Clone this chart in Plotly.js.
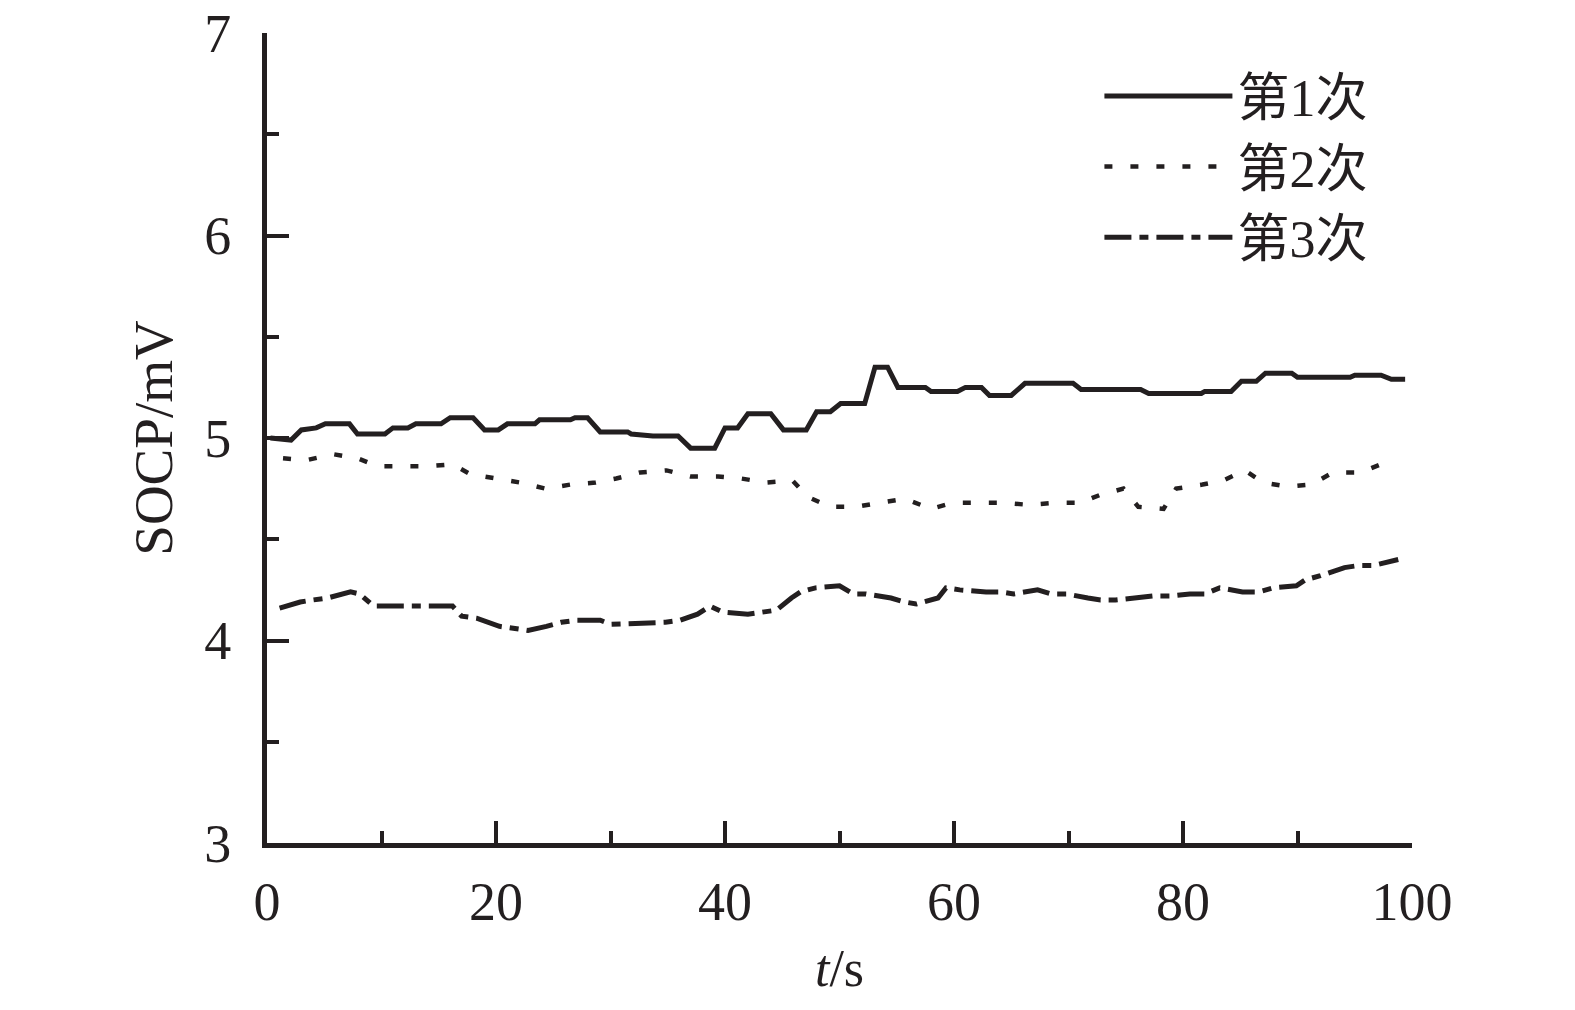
<!DOCTYPE html>
<html>
<head>
<meta charset="utf-8">
<script src="https://cdn.plot.ly/plotly-3.0.1.min.js"></script>
<style>
  html, body { margin: 0; padding: 0; background: #ffffff; }
  #chart { width: 1575px; height: 1010px; }
</style>
</head>
<body>
<div id="chart"></div>
<script>
// Series names
const seriesNames = ['第1次', '第2次', '第3次'];

// Series 1 (solid)
const t1 = [0.3,2.1,3,4.3,5.1,7.2,7.9,10.3,11,12.3,13,15.2,16,18,19,20.2,21,23.4,23.8,26.5,26.9,28,29.1,31.5,31.8,33.7,35.9,37,39.1,40,41.1,42,44,45.1,47.1,48,49.2,50.1,52.2,53.1,54.2,55.1,57.5,58,60.3,61,62.4,63.1,65,66.2,70.4,71.1,76.3,77,81.6,81.9,84.2,85.1,86.4,87.2,89.5,90,91.6,94.6,95,97.3,98.2,99.4];
const v1 = [5.0,4.99,5.04,5.05,5.07,5.07,5.02,5.02,5.05,5.05,5.07,5.07,5.10,5.10,5.04,5.04,5.07,5.07,5.09,5.09,5.10,5.10,5.03,5.03,5.02,5.01,5.01,4.95,4.95,5.05,5.05,5.12,5.12,5.04,5.04,5.13,5.13,5.17,5.17,5.35,5.35,5.25,5.25,5.23,5.23,5.25,5.25,5.21,5.21,5.27,5.27,5.24,5.24,5.22,5.22,5.23,5.23,5.28,5.28,5.32,5.32,5.30,5.30,5.30,5.31,5.31,5.29,5.29];

// Series 2 (dotted)
const t2 = [1.4,3.4,5.8,7.9,9.7,11.9,13.9,16.2,17.8,20,22.1,24.3,26.5,28.7,30.5,32.6,34.9,37,39.4,41.4,43.6,45.9,47.2,49.2,51.4,53.5,55.7,58,59.9,62.1,64.3,66.5,68.8,71,72.8,74.8,76.1,78.3,79.4,81.7,83.5,85.4,87,89.2,91.2,93.1,95.5,97.3];
const v2 = [4.90,4.89,4.92,4.90,4.86,4.86,4.86,4.87,4.82,4.80,4.78,4.75,4.77,4.78,4.80,4.83,4.84,4.81,4.81,4.80,4.78,4.79,4.71,4.66,4.66,4.68,4.70,4.65,4.68,4.68,4.68,4.67,4.68,4.68,4.72,4.75,4.66,4.65,4.75,4.77,4.79,4.84,4.78,4.76,4.77,4.83,4.83,4.87];

// Series 3 (dash-dot)
const t3 = [1.1,2.9,4,5.3,7.3,8.1,9.3,11.6,16.2,17,18.3,20.3,21.7,22.8,24.4,25.7,27,29.1,30,33.7,34.8,36.1,37.6,38.7,39.8,42,43,44.5,45.8,46.6,47.9,50,51.2,52.3,54.5,55.7,56.7,58.6,59.3,60.5,62.8,64,65.2,67.3,68.5,69.8,71.7,72.8,74.1,76.2,77.4,78.9,80.6,81.9,83.2,85.2,86.6,87.9,89.9,90.7,92,94.1,95.3,96.6,98.8];
const v3 = [4.16,4.19,4.20,4.21,4.24,4.23,4.17,4.17,4.17,4.12,4.11,4.07,4.06,4.05,4.07,4.09,4.10,4.10,4.08,4.09,4.09,4.10,4.13,4.17,4.14,4.13,4.14,4.15,4.21,4.24,4.26,4.27,4.23,4.23,4.21,4.19,4.18,4.21,4.26,4.25,4.24,4.24,4.23,4.25,4.23,4.23,4.21,4.20,4.20,4.21,4.22,4.22,4.23,4.23,4.26,4.24,4.24,4.26,4.27,4.30,4.32,4.36,4.37,4.37,4.40];

const ink = '#231f20';
const serif = '"Liberation Serif", "Times New Roman", "Noto Sans CJK SC", serif';

const traces = [
  { x: t1, y: v1, name: seriesNames[0], type: 'scatter', mode: 'lines',
    line: { color: ink, width: 5, dash: 'solid' } },
  { x: t2, y: v2, name: seriesNames[1], type: 'scatter', mode: 'lines',
    line: { color: ink, width: 4.5, dash: '8px,18px' } },
  { x: t3, y: v3, name: seriesNames[2], type: 'scatter', mode: 'lines',
    line: { color: ink, width: 5, dash: '27px,8px,9px,8px' } }
];

const layout = {
  width: 1575, height: 1010,
  paper_bgcolor: '#ffffff', plot_bgcolor: '#ffffff',
  margin: { l: 267, r: 163, t: 33, b: 167 },
  font: { family: serif, color: ink, size: 54 },
  showlegend: true,
  legend: {
    x: 0.727, y: 0.972, xanchor: 'left', yanchor: 'top',
    bgcolor: 'rgba(0,0,0,0)', borderwidth: 0,
    font: { family: serif, size: 52, color: ink },
    itemwidth: 128, tracegroupgap: 0
  },
  xaxis: {
    range: [0, 100], dtick: 20, tick0: 0,
    showgrid: false, zeroline: false,
    showline: true, linecolor: ink, linewidth: 5, mirror: false,
    ticks: 'inside', ticklen: 22, tickwidth: 4, tickcolor: ink,
    ticklabelstandoff: 7,
    tickfont: { family: serif, size: 54, color: ink },
    minor: { dtick: 10, ticks: 'inside', ticklen: 12, tickwidth: 4, tickcolor: ink, showgrid: false },
    title: { text: '<i>t</i>/s', font: { family: serif, size: 52, color: ink }, standoff: 20 }
  },
  yaxis: {
    range: [3, 7], dtick: 1, tick0: 3,
    showgrid: false, zeroline: false,
    showline: true, linecolor: ink, linewidth: 5, mirror: false,
    ticks: 'inside', ticklen: 22, tickwidth: 4, tickcolor: ink,
    ticklabelstandoff: 20,
    tickfont: { family: serif, size: 54, color: ink },
    minor: { dtick: 0.5, ticks: 'inside', ticklen: 12, tickwidth: 4, tickcolor: ink, showgrid: false },
    title: { text: 'SOCP/mV', font: { family: serif, size: 55, color: ink }, standoff: 15 }
  }
};

Plotly.newPlot('chart', traces, layout, { displayModeBar: false, staticPlot: true });
</script>
</body>
</html>
